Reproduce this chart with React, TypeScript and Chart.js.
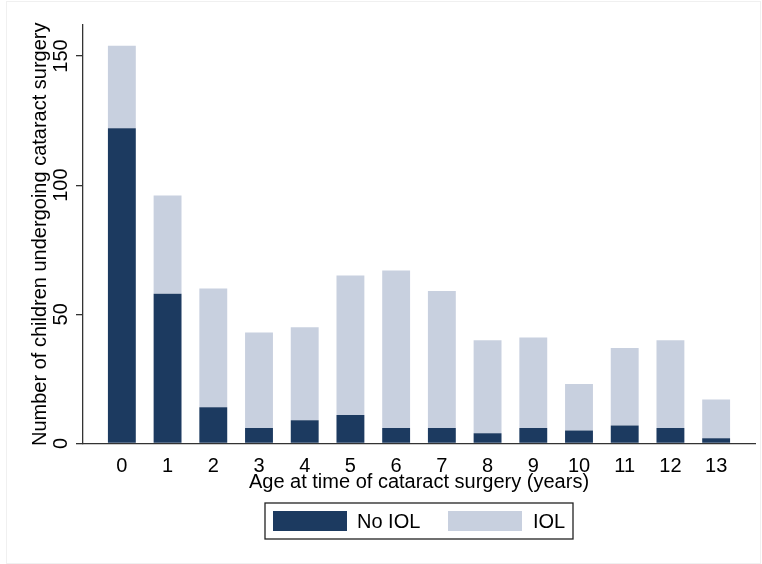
import React, { useEffect, useRef } from "react";
import { Chart, registerables } from "chart.js";

Chart.register(...registerables);

const ages = [0, 1, 2, 3, 4, 5, 6, 7, 8, 9, 10, 11, 12, 13];
const noIOL = [122, 58, 14, 6, 9, 11, 6, 6, 4, 6, 5, 7, 6, 2];
const IOL = [32, 38, 46, 37, 36, 54, 61, 53, 36, 35, 18, 30, 34, 15];
const yTicks = [0, 50, 100, 150];
const seriesNames = ["No IOL", "IOL"];
const xTitle = "Age at time of cataract surgery (years)";
const yTitle = "Number of children undergoing cataract surgery";

const DARK = "#1c3a60";
const LIGHT = "#c8d0df";
const FONT = "'Liberation Sans', Arial, sans-serif";

const customPlugin = {
  id: "custom",
  afterDraw(chart: any) {
    const ctx = chart.ctx;
    const ca = chart.chartArea;
    const y = chart.scales.y;
    ctx.save();
    // faint outer frame
    ctx.strokeStyle = "#f0f0f0";
    ctx.lineWidth = 1;
    ctx.strokeRect(6.5, 1.5, chart.width - 8, chart.height - 2);
    // rotated y tick labels
    ctx.fillStyle = "#000";
    ctx.font = `20px ${FONT}`;
    ctx.textAlign = "center";
    ctx.textBaseline = "middle";
    yTicks.forEach((v) => {
      const py = y.getPixelForValue(v);
      ctx.save();
      ctx.translate(ca.left - 21.5, py);
      ctx.rotate(-Math.PI / 2);
      ctx.fillText(String(v), 0, 0);
      ctx.restore();
    });
    // legend
    const cx = (ca.left + ca.right) / 2;
    const bw = 308;
    const bh = 36;
    const bx = cx - bw / 2;
    const by = ca.bottom + 59.5;
    ctx.strokeStyle = "#222";
    ctx.lineWidth = 1.3;
    ctx.strokeRect(bx, by, bw, bh);
    const colors = [DARK, LIGHT];
    const swatchX = [8, 183];
    const textX = [92, 268];
    seriesNames.forEach((name, i) => {
      ctx.fillStyle = colors[i];
      ctx.fillRect(bx + swatchX[i], by + 8, 74, 20);
      ctx.fillStyle = "#000";
      ctx.textAlign = "left";
      ctx.textBaseline = "middle";
      ctx.fillText(name, bx + textX[i], by + bh / 2 + 1);
    });
    ctx.restore();
  },
};

export default function App() {
  const ref = useRef<HTMLCanvasElement>(null);
  useEffect(() => {
    document.body.style.margin = "0";
    const chart = new Chart(ref.current!, {
      type: "bar",
      data: {
        datasets: [
          {
            label: seriesNames[0],
            data: ages.map((a, i) => ({ x: a, y: noIOL[i] })),
            backgroundColor: DARK,
            barPercentage: 1,
            categoryPercentage: 0.61,
          },
          {
            label: seriesNames[1],
            data: ages.map((a, i) => ({ x: a, y: IOL[i] })),
            backgroundColor: LIGHT,
            barPercentage: 1,
            categoryPercentage: 0.61,
          },
        ],
      },
      options: {
        animation: false,
        responsive: false,
        layout: { padding: { top: 25, right: 7, left: 0, bottom: 0 } },
        plugins: { legend: { display: false }, tooltip: { enabled: false } },
        scales: {
          x: {
            type: "linear",
            stacked: true,
            offset: false,
            min: -0.85,
            max: 13.85,
            afterBuildTicks: (s: any) => {
              s.ticks = ages.map((v) => ({ value: v }));
            },
            afterFit: (s: any) => {
              s.height = 120.5;
            },
            grid: { display: false, drawTicks: false, offset: false },
            border: { display: true, color: "#333", width: 1.3 },
            ticks: {
              color: "#000",
              font: { family: FONT, size: 20 },
              padding: 11,
              maxRotation: 0,
              autoSkip: false,
              callback: (v: any) => String(v),
            },
            title: {
              display: true,
              text: xTitle,
              color: "#000",
              font: { family: FONT, size: 20 },
              padding: { top: 0, bottom: 70 },
            },
          },
          y: {
            stacked: true,
            min: 0,
            max: 162,
            afterBuildTicks: (s: any) => {
              s.ticks = yTicks.map((v) => ({ value: v }));
            },
            afterFit: (s: any) => {
              s.width = 83;
            },
            grid: {
              display: true,
              drawOnChartArea: false,
              drawTicks: true,
              tickLength: 7,
              color: "#333",
              lineWidth: 1.3,
            },
            border: { display: true, color: "#333", width: 1.3 },
            ticks: { display: false },
            title: {
              display: true,
              text: yTitle,
              color: "#000",
              font: { family: FONT, size: 20 },
              padding: { top: 28, bottom: 0 },
            },
          },
        },
      },
      plugins: [customPlugin],
    });
    return () => chart.destroy();
  }, []);
  return <canvas ref={ref} width={762} height={564} style={{ display: "block" }} />;
}
